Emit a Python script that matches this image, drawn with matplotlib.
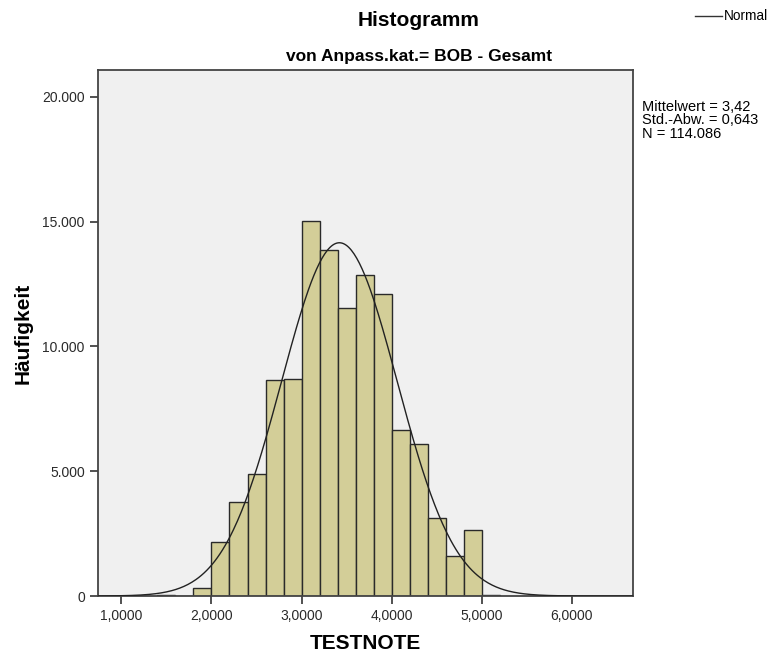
import numpy as np
import matplotlib
matplotlib.use("Agg")
import matplotlib.pyplot as plt
from matplotlib.ticker import FuncFormatter, MultipleLocator

plt.rcParams['font.family'] = ['Liberation Sans', 'DejaVu Sans']

# histogram data (bin width 0.2)
bin_left = [1.4, 1.6, 1.8, 2.0, 2.2, 2.4, 2.6, 2.8, 3.0, 3.2, 3.4, 3.6,
            3.8, 4.0, 4.2, 4.4, 4.6, 4.8, 5.0]
counts = [30, 0, 330, 2170, 3770, 4900, 8670, 8700, 15010, 13880, 11530,
          12880, 12110, 6670, 6080, 3110, 1620, 2660, 40]
bin_width = 0.2

# stats shown in the chart
mean = 3.42
std = 0.643
n = 114086


def de_num(s):
    # German number format: swap '.' and ','
    return s.replace(',', '#').replace('.', ',').replace('#', '.')


fig = plt.figure(figsize=(7.71, 6.56), dpi=100)
ax = fig.add_axes([98/771, 1 - 596/656, (633 - 98)/771, (596 - 70)/656])
ax.set_facecolor('#f0f0f0')

ax.bar(bin_left, counts, width=bin_width, align='edge', color='#d3ce98',
       edgecolor='#2a2a2a', linewidth=1.0, zorder=2)

# fitted normal curve
xs = np.linspace(0.74, 6.68, 400)
ys = n * bin_width / (std * np.sqrt(2 * np.pi)) * np.exp(-0.5 * ((xs - mean) / std) ** 2)
ax.plot(xs, ys, color='#222222', linewidth=1.0, zorder=3)

ax.set_xlim(0.74, 6.68)
ax.set_ylim(0, 21080)
ax.xaxis.set_major_locator(MultipleLocator(1))
ax.yaxis.set_major_locator(MultipleLocator(5000))
ax.xaxis.set_major_formatter(FuncFormatter(lambda v, p: de_num(f"{v:.4f}")))
ax.yaxis.set_major_formatter(FuncFormatter(lambda v, p: de_num(f"{int(v):,}")))
ax.tick_params(direction='out', length=6, width=1.2, color='#333333',
               labelsize=10, labelcolor='#2a2a2a', top=False, right=False)
for s in ax.spines.values():
    s.set_color('#444444')
    s.set_linewidth(1.3)

ax.set_xlabel('TESTNOTE', fontsize=15, fontweight='bold', labelpad=8)
ax.set_ylabel('Häufigkeit', fontsize=15, fontweight='bold', labelpad=7)

fig.text(419/771, 1 - 20/656, 'Histogramm', ha='center', va='center',
         fontsize=15, fontweight='bold')
fig.text(419/771, 1 - 57/656, 'von Anpass.kat.= BOB - Gesamt', ha='center',
         va='center', fontsize=12.5, fontweight='bold')

# legend
fig.add_artist(plt.Line2D([695/771, 722/771], [1 - 16/656, 1 - 16/656],
                          color='#333333', linewidth=1.0))
fig.text(724/771, 1 - 16/656, 'Normal', ha='left', va='center', fontsize=9.8)

stats = ("Mittelwert = " + de_num(f"{mean:.2f}") + "\n"
         + "Std.-Abw. = " + de_num(f"{std:.3f}") + "\n"
         + "N = " + de_num(f"{n:,}"))
fig.text(642/771, 1 - 100/656, stats, ha='left', va='top', fontsize=10.5,
         linespacing=0.95)

fig.savefig('out.png', dpi=100)
